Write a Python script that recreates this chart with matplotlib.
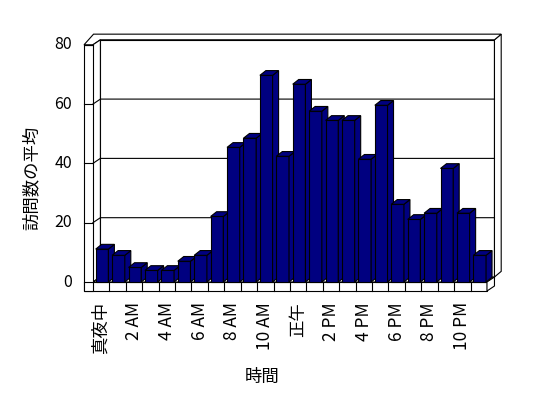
import matplotlib
matplotlib.use("Agg")
import matplotlib.pyplot as plt
from matplotlib.patches import Polygon, Rectangle

plt.rcParams['font.family'] = ['Noto Sans CJK JP', 'DejaVu Sans']

# ---------------------------
# data
# ---------------------------
hours = list(range(24))
visits = [11.1, 9.0, 4.9, 3.9, 3.9, 7.0, 9.0, 22.1, 45.4, 48.5, 69.7, 42.4,
          66.7, 57.6, 54.5, 54.5, 41.4, 59.6, 26.2, 21.1, 23.2, 38.3, 23.2, 9.0]
tick_pos = [0, 2, 4, 6, 8, 10, 12, 14, 16, 18, 20, 22]
tick_labels = ["真夜中", "2 AM", "4 AM", "6 AM", "8 AM", "10 AM",
               "正午", "2 PM", "4 PM", "6 PM", "8 PM", "10 PM"]
y_ticks = [0, 20, 40, 60, 80]
x_title = "時間"
y_title = "訪問数の平均"

# ---------------------------
# 3D look (oblique projection, in data units)
# ---------------------------
NAVY = "#000080"
LW = 0.8
DX, DY = 0.457, 1.69        # front plane -> back wall
TX, TY = 0.41, 1.9          # back wall thickness
BDX, BDY = 0.365, 1.6       # bar depth
BAR_OFF, BAR_W = -0.329, 0.773
X0, X1 = -0.5, 23.5         # floor front edge
XW = -1.04                  # left wall outer face
FLOOR = -3.04               # floor slab bottom
YMAX = y_ticks[-1]

fig = plt.figure(figsize=(5.48, 3.98), dpi=100)
ax = fig.add_axes([0, 0, 1, 1])
ax.set_xlim(-6.157, 27.217)
ax.set_ylim(-39.12, 95.11)
ax.axis("off")


def poly(pts, fc="white", z=1):
    ax.add_patch(Polygon(pts, closed=True, facecolor=fc, edgecolor="black",
                         linewidth=LW, zorder=z, joinstyle="miter"))


# back wall + right side + top
poly([(X0 + DX, DY), (X1 + DX, DY), (X1 + DX, YMAX + DY), (X0 + DX, YMAX + DY)])
poly([(X1 + DX, DY), (X1 + DX + TX, DY + TY), (X1 + DX + TX, YMAX + DY + TY),
      (X1 + DX, YMAX + DY)])
poly([(XW, YMAX), (X0, YMAX), (X0 + DX, YMAX + DY), (X1 + DX, YMAX + DY),
      (X1 + DX + TX, YMAX + DY + TY), (XW + DX + TX * 0.3, YMAX + DY + TY)])
# left wall inner face
poly([(X0, 0), (X0 + DX, DY), (X0 + DX, YMAX + DY), (X0, YMAX)])
# floor top, front and right side
poly([(X0, 0), (X1, 0), (X1 + DX, DY), (X0 + DX, DY)])
poly([(XW, FLOOR), (X1, FLOOR), (X1, 0), (XW, 0)])
poly([(X1, FLOOR), (X1 + DX, FLOOR + DY), (X1 + DX, DY), (X1, 0)])
# left wall front face
poly([(XW, FLOOR), (X0, FLOOR), (X0, YMAX), (XW, YMAX)])

# gridlines and ticks
for v in y_ticks[1:-1]:
    ax.plot([X0, X0 + DX, X1 + DX], [v, v + DY, v + DY], color="black", lw=LW, zorder=2)
for v in y_ticks:
    ax.plot([XW, X0], [v, v], color="black", lw=LW, zorder=2)
for k in range(1, 24):
    ax.plot([X0 + k, X0 + k], [FLOOR, 0], color="black", lw=LW, zorder=2)

# bars, left to right so the next one covers the previous side
for i, v in zip(hours, visits):
    xl = i + BAR_OFF
    xr = xl + BAR_W
    z = 3 + i * 0.01
    ax.add_patch(Rectangle((xl, 0), BAR_W, v, facecolor=NAVY, edgecolor="black",
                           linewidth=LW, zorder=z))
    poly([(xr, 0), (xr + BDX, BDY), (xr + BDX, v + BDY), (xr, v)], fc=NAVY, z=z)
    poly([(xl, v), (xr, v), (xr + BDX, v + BDY), (xl + BDX, v + BDY)], fc=NAVY, z=z)

# labels
for v in y_ticks:
    ax.text(-1.772, v, str(v), ha="right", va="center", fontsize=11.5)
for p, lab in zip(tick_pos, tick_labels):
    ax.text(p, -6.75, lab, ha="center", va="top", rotation=90, fontsize=12.5)
ax.text(-4.21, 35.1, y_title, ha="center", va="center", rotation=90, fontsize=12.5)
ax.text(9.8, -32.0, x_title, ha="center", va="center", fontsize=12.5)

fig.savefig("out.png", dpi=100, facecolor="white")
